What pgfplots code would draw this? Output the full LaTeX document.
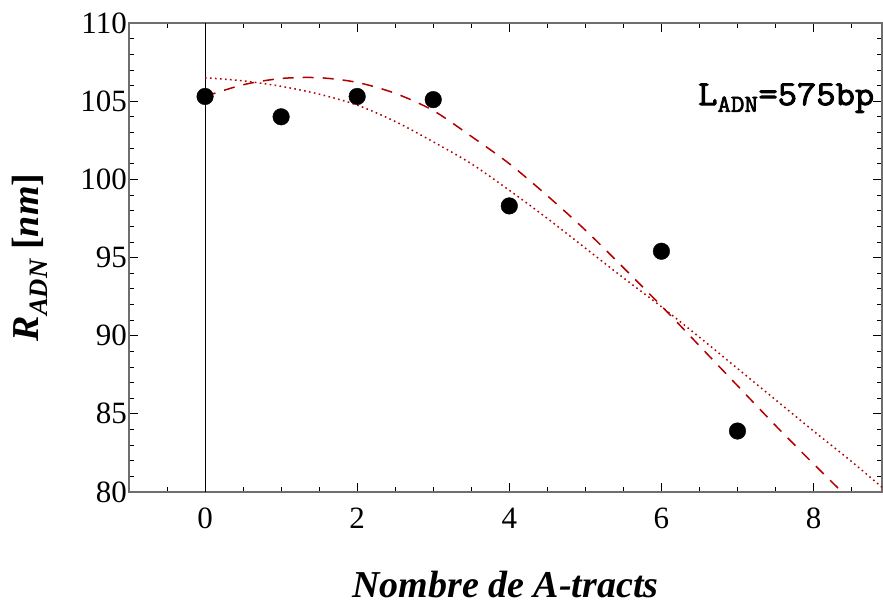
\documentclass[border=0pt]{standalone}
\usepackage{pgfplots}
\pgfplotsset{compat=1.18}
\usepackage{graphicx}
\usepackage{fontspec}
\setmainfont{Liberation Serif}
\newfontfamily\monob{Latin Modern Mono}[FakeBold=2.5]
\definecolor{fitred}{RGB}{178,0,0}
\definecolor{framegray}{RGB}{110,110,110}
\begin{document}
\begin{tikzpicture}
\useasboundingbox (-129pt,-114pt) rectangle (754pt,492pt);
\begin{axis}[
  scale only axis,
  width=753pt, height=469pt,
  xmin=-1, xmax=8.9, ymin=80, ymax=110,
  xtick={0,2,4,6,8},
  minor xtick={-1,-0.5,...,9},
  ytick={80,85,...,110},
  minor ytick={80,81,...,110},
  tick align=inside,
  major tick length=9pt, minor tick length=5pt,
  axis line style={framegray, line width=1.3pt},
  every tick/.style={black, line width=0.7pt},
  /pgf/number format/assume math mode=true,
  tick label style={font=\fontsize{31}{31}\selectfont, inner sep=0pt},
  xticklabel style={anchor=north, yshift=-16pt},
  yticklabel style={anchor=east, xshift=-2pt},
  every axis x label/.style={at={([yshift=-105pt]axis description cs:0.5,0)}, anchor=base, font=\fontsize{38}{38}\selectfont\bfseries\itshape},
  every axis y label/.style={at={([xshift=-90pt]axis description cs:0,0.5)}, rotate=90, anchor=base, font=\fontsize{38}{38}\selectfont\bfseries},
  xlabel={Nombre de A-tracts},
  ylabel={\itshape R\textsubscript{ADN} \upshape[\itshape nm\upshape]},
]
\addplot[black, line width=0.8pt, forget plot] coordinates {(0,80) (0,110)};
\addplot[fitred, line width=1.5pt, dash pattern=on 1.6pt off 3.4pt, smooth] coordinates {
(0,106.5) (0.5,106.3) (1,105.95) (1.5,105.45) (2,104.75) (2.5,103.7) (3,102.4) (3.5,101.0) (4,99.3) (4.5,97.5) (5,95.6) (5.5,93.7) (6,91.85) (6.5,89.9) (7,87.9) (7.5,85.9) (8,83.9) (8.5,81.95) (8.9,80.3)};
\addplot[fitred, line width=1.5pt, dash pattern=on 11pt off 9pt, smooth] coordinates {
(0,105.3) (0.5,106.05) (1,106.45) (1.5,106.5) (2,106.2) (2.5,105.5) (3,104.4) (3.5,102.75) (4,101.0) (4.5,98.95) (5,96.75) (5.5,94.35) (6,91.9) (6.5,89.35) (7,86.8) (7.5,84.25) (8,81.8) (8.5,79.4)};
\addplot[only marks, mark=*, mark size=8.3pt, black] coordinates {
(0,105.3) (1,104.0) (2,105.3) (3,105.1) (4,98.3) (6,95.4) (7,83.9)};
\node[anchor=base east, inner sep=0pt, font=\fontsize{35}{35}\selectfont\monob] at (axis cs:8.80,104.75) {\scalebox{1.07}[1]{L\textsubscript{ADN}=575bp}};
\end{axis}
\end{tikzpicture}
\end{document}
